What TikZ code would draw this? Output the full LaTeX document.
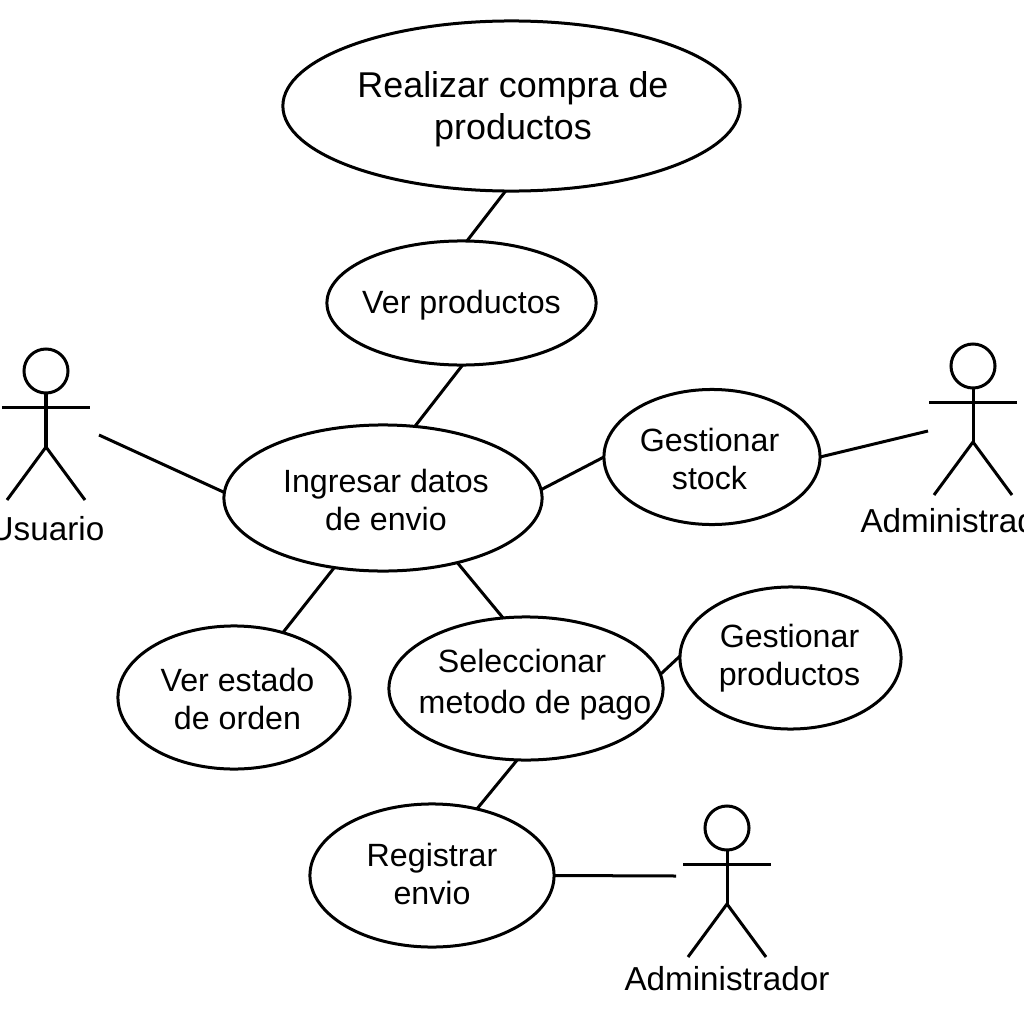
\documentclass[tikz,border=0pt]{standalone}
\usepackage{fontspec}
\setmainfont{Liberation Sans}
\usetikzlibrary{shapes.geometric}
\tikzset{
	ucase/.style={draw,ellipse,inner xsep=-0.5cm,inner ysep=-0.1cm,outer sep=0pt,align=center,font=\fontsize{9.15}{10.8}\selectfont},
	ulabel/.style={inner sep=0pt,font=\fontsize{9.45}{11}\selectfont},
	uhead/.style={draw,circle,inner sep=0pt,outer sep=0pt,minimum size=0.44cm}
}
% stick figure: name, x, y of the head, label, label offset
\newcommand{\actor}[6]{
	\begin{scope}[shift={(#2,#3)}]
		\node[uhead] (#1head) at (0,0) {};
		\coordinate (#1hip) at (0,76);
		\draw (#1head.south) -- (#1hip);
		\draw (-44,36) -- (44,36);
		\draw (-39,129) -- (#1hip) -- (39,129);
		\node[ulabel] (#1label) at (#5,#6) {#4};
	\end{scope}
}
% taller first line, pushes the text down in its ellipse
\newcommand{\lowline}[1]{\rule{0pt}{#1}}
\begin{document}
\begin{tikzpicture}[x=0.01cm,y=-0.01cm,line width=0.03cm]
	\useasboundingbox (0,0) rectangle (1024,1024);

	\node[ucase,minimum width=4.57cm,minimum height=1.70cm,font=\fontsize{10.2}{11.95}\selectfont] (compra) at (511.5,106) {\lowline{0.322cm}\hspace*{0.03cm}Realizar compra de\\\hspace*{0.03cm}productos};
	\node[ucase,minimum width=2.69cm,minimum height=1.24cm] (ver) at (461.5,303) {\lowline{0.276cm}Ver productos};
	\node[ucase,minimum width=3.18cm,minimum height=1.46cm] (envio) at (383,498) {\lowline{0.276cm}\hspace*{0.06cm}Ingresar datos\\\hspace*{0.06cm}de envio};
	\node[ucase,minimum width=2.16cm,minimum height=1.35cm] (stock) at (712,457) {\lowline{0.276cm}Gestionar\hspace*{0.05cm}\\stock\hspace*{0.05cm}};
	\node[ucase,minimum width=2.32cm,minimum height=1.43cm] (estado) at (234,697.5) {\lowline{0.256cm}\hspace*{0.07cm}Ver estado\\\hspace*{0.07cm}de orden};
	\node[ucase,text depth=0.14cm,minimum width=2.74cm,minimum height=1.43cm] (pago) at (526,688.5) {Seleccionar\hspace*{0.08cm}\\[0.03cm]\hspace*{0.18cm}metodo de pago};
	\node[ucase,text depth=0.06cm,minimum width=2.21cm,minimum height=1.42cm] (prod) at (790.5,658) {Gestionar\hspace*{0.02cm}\\productos\hspace*{0.02cm}};
	\node[ucase,text depth=0.04cm,minimum width=2.44cm,minimum height=1.43cm] (reg) at (432,875.5) {Registrar\\envio};

	\actor{usuario}{46}{371}{Usuario}{1}{158}
	\actor{admina}{973}{366}{Administrador}{-10}{155}
	\actor{adminb}{727}{828}{Administrador}{0}{151}

	\coordinate (usuarioend) at (99,435);
	\coordinate (adminaend) at (928,431);
	\coordinate (adminbend) at (676,876);

	\draw (compra.-94) -- (ver.85);
	\draw (ver.-89) -- (envio.66);
	\draw (usuarioend) -- (envio.178);
	\draw (envio.3) -- (stock.180);
	\draw (stock.0) -- (adminaend);
	\draw (envio.-125) -- (estado.53);
	\draw (envio.-41) -- (pago.108);
	\draw (pago.6) -- (prod.179);
	\draw (pago.-97) -- (reg.56);
	\draw (reg.0) -- (adminbend);
\end{tikzpicture}
\end{document}
